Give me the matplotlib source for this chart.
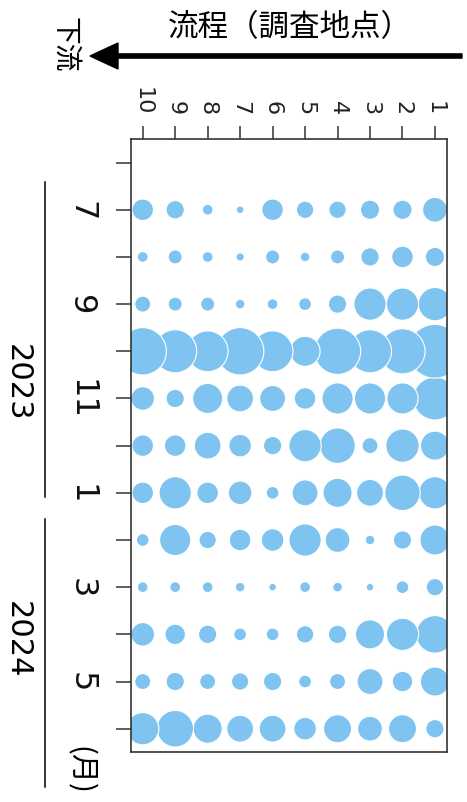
import matplotlib
matplotlib.use("Agg")
import matplotlib.pyplot as plt
from matplotlib.patches import FancyArrow
from matplotlib.lines import Line2D
import numpy as np

# ---- data (sites ordered downstream -> upstream as drawn left -> right) ----
sites = [10, 9, 8, 7, 6, 5, 4, 3, 2, 1]
months = [7, 8, 9, 10, 11, 12, 1, 2, 3, 4, 5, 6]   # Jul 2023 ... Jun 2024
years = ["2023", "2024"]

# relative abundance per site (values in order of `sites`)
jul_2023 = [40, 29, 10, 5, 40, 26, 26, 32, 32, 53]
aug_2023 = [10, 17, 10, 6, 17, 8, 17, 29, 40, 32]
sep_2023 = [22, 17, 17, 8, 10, 14, 29, 90, 90, 96]
oct_2023 = [194, 160, 144, 194, 144, 78, 185, 160, 176, 250]
nov_2023 = [48, 29, 78, 62, 58, 40, 84, 84, 84, 160]
dec_2023 = [40, 40, 62, 44, 29, 90, 109, 22, 96, 73]
jan_2024 = [40, 90, 40, 48, 14, 58, 73, 62, 109, 90]
feb_2024 = [14, 84, 26, 40, 44, 90, 53, 8, 29, 78]
mar_2024 = [10, 10, 10, 8, 5, 10, 8, 5, 14, 26]
apr_2024 = [48, 36, 29, 14, 14, 26, 29, 73, 90, 122]
may_2024 = [22, 29, 22, 26, 29, 14, 22, 58, 36, 73]
jun_2024 = [90, 116, 73, 62, 62, 44, 68, 53, 68, 29]

rows = [jul_2023, aug_2023, sep_2023, oct_2023, nov_2023, dec_2023,
        jan_2024, feb_2024, mar_2024, apr_2024, may_2024, jun_2024]

title_text = "流程（調査地点）"
down_text = "下流"
month_unit = "(月)"

# ---- figure ----
W, H, DPI = 467, 803, 100
fig = plt.figure(figsize=(W / DPI, H / DPI), dpi=DPI)
ax = fig.add_axes([130.7 / W, 1 - 753.3 / H, (447.3 - 130.7) / W, (753.3 - 140) / H])

bubble_color = "#7fc4f0"
size_scale = 6.0
for i in range(len(rows) - 1, -1, -1):
    vals = np.array(rows[i], dtype=float)
    ax.scatter(sites[::-1], [i] * len(sites), s=vals[::-1] * size_scale,
               c=bubble_color, edgecolors="white", linewidths=0.8, zorder=2)

ax.set_xlim(10.37, 0.62)
ax.set_ylim(11.5, -1.5)

# top axis: sites
ax.xaxis.tick_top()
ax.set_xticks(sites)
ax.set_xticklabels([str(s) for s in sites], rotation=-90, fontsize=16,
                   family="DejaVu Sans", color="#222222")
ax.tick_params(axis="x", length=9.4, width=1.1, pad=8.5, color="#333333")

# left axis: months (one extra tick before the first month)
yt = list(range(-1, len(months)))
ylabels = [""] + [str(m) if m % 2 == 1 else "" for m in months]
ax.set_yticks(yt)
ax.set_yticklabels(ylabels, rotation=-90, fontsize=23, family="DejaVu Sans",
                   va="center", color="#111111")
ax.tick_params(axis="y", length=10.8, width=1.1, pad=14, color="#333333")

for sp in ax.spines.values():
    sp.set_color("#333333")
    sp.set_linewidth(1.2)

cjk = ["Noto Sans CJK JP", "DejaVu Sans"]

# title and flow direction arrow
fig.text(290 / W, 1 - 28 / H, title_text, fontsize=22, family=cjk,
         ha="center", va="center")
fig.text(65 / W, 1 - 45 / H, down_text, fontsize=20, family=cjk,
         rotation=-90, ha="center", va="center")
arrow = FancyArrow(462 / DPI, (H - 57) / DPI, -(462 - 90) / DPI, 0,
                   width=0.042, head_width=0.26, head_length=0.28,
                   length_includes_head=True, color="black",
                   transform=fig.dpi_scale_trans)
fig.add_artist(arrow)

# month unit
fig.text(79 / W, 1 - 770 / H, month_unit, fontsize=21, family=cjk,
         rotation=-90, ha="center", va="center")

# year labels with bracket lines
fig.text(17 / W, 1 - 383 / H, years[0], fontsize=22, family="DejaVu Sans",
         rotation=-90, ha="center", va="center")
fig.text(17 / W, 1 - 640 / H, years[1], fontsize=22, family="DejaVu Sans",
         rotation=-90, ha="center", va="center")
fig.add_artist(Line2D([45 / W, 45 / W], [1 - 183 / H, 1 - 498 / H],
                      transform=fig.transFigure, color="black", lw=1.1))
fig.add_artist(Line2D([45 / W, 45 / W], [1 - 520 / H, 1 - 788 / H],
                      transform=fig.transFigure, color="black", lw=1.1))

fig.savefig("out.png", dpi=DPI)
